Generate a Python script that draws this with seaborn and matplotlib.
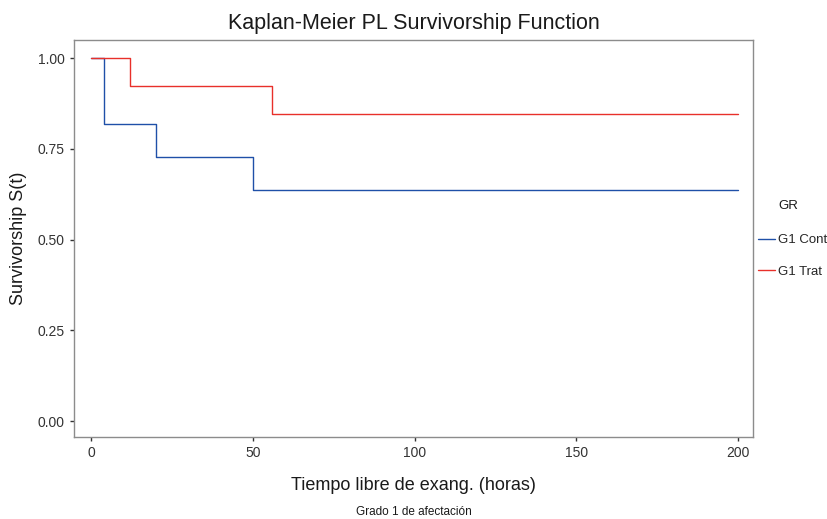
import numpy as np
import pandas as pd
import matplotlib
matplotlib.use('Agg')
import matplotlib.pyplot as plt
import seaborn as sns

# Kaplan-Meier step data
cont_time = [0, 4, 20, 50, 200]
cont_surv = [1.0, 0.818, 0.727, 0.636, 0.636]
trat_time = [0, 12, 56, 200]
trat_surv = [1.0, 0.923, 0.846, 0.846]
groups = ['G1 Cont', 'G1 Trat']
colors = ['#1F50A8', '#E8302A']

df = pd.concat([
    pd.DataFrame({'time': cont_time, 'surv': cont_surv, 'GR': groups[0]}),
    pd.DataFrame({'time': trat_time, 'surv': trat_surv, 'GR': groups[1]}),
])

sns.set_style('white')
plt.rcParams['font.family'] = ['Liberation Sans', 'DejaVu Sans']

fig = plt.figure(figsize=(8.27, 5.19), dpi=100)
ax = fig.add_axes([74 / 827, 1 - 437 / 519, (753 - 74) / 827, (437 - 40) / 519])

sns.lineplot(data=df, x='time', y='surv', hue='GR', palette=dict(zip(groups, colors)),
             drawstyle='steps-post', linewidth=1.0, ax=ax, estimator=None, sort=True)

ax.set_xlim(-5.3, 204.6)
ax.set_ylim(-0.044, 1.05)
ax.set_xticks([0, 50, 100, 150, 200])
ax.set_yticks([0, 0.25, 0.5, 0.75, 1.0])
ax.set_yticklabels(['0.00', '0.25', '0.50', '0.75', '1.00'])
ax.tick_params(axis='both', direction='out', length=3, width=1, color='#333333',
               labelsize=10, labelcolor='#333333', bottom=True, left=True)
for s in ax.spines.values():
    s.set_color('#8C8C8C')
    s.set_linewidth(1.0)

ax.set_xlabel('Tiempo libre de exang. (horas)', fontsize=13, color='#1a1a1a', labelpad=12)
ax.set_ylabel('Survivorship S(t)', fontsize=13, color='#1a1a1a', labelpad=8)
ax.set_title('Kaplan-Meier PL Survivorship Function', fontsize=15.5, color='#1a1a1a', pad=8)
fig.text(0.5 * (74 + 753) / 827, 1 - 512 / 519, 'Grado 1 de afectación', ha='center', va='center',
         fontsize=8.5, color='#1a1a1a')

leg = ax.legend(loc='upper left', bbox_to_anchor=(758 / 827, 1 - 234 / 519),
                bbox_transform=fig.transFigure, frameon=False,
                prop={'size': 9.5}, handlelength=1.3, handletextpad=0.22,
                labelspacing=1.45, borderaxespad=0, borderpad=0)
for line in leg.get_lines():
    line.set_linewidth(1.0)
fig.text(778 / 827, 1 - 206 / 519, 'GR', ha='left', va='center', fontsize=9.5,
         color='#1a1a1a')

fig.savefig('out.png', dpi=100)
